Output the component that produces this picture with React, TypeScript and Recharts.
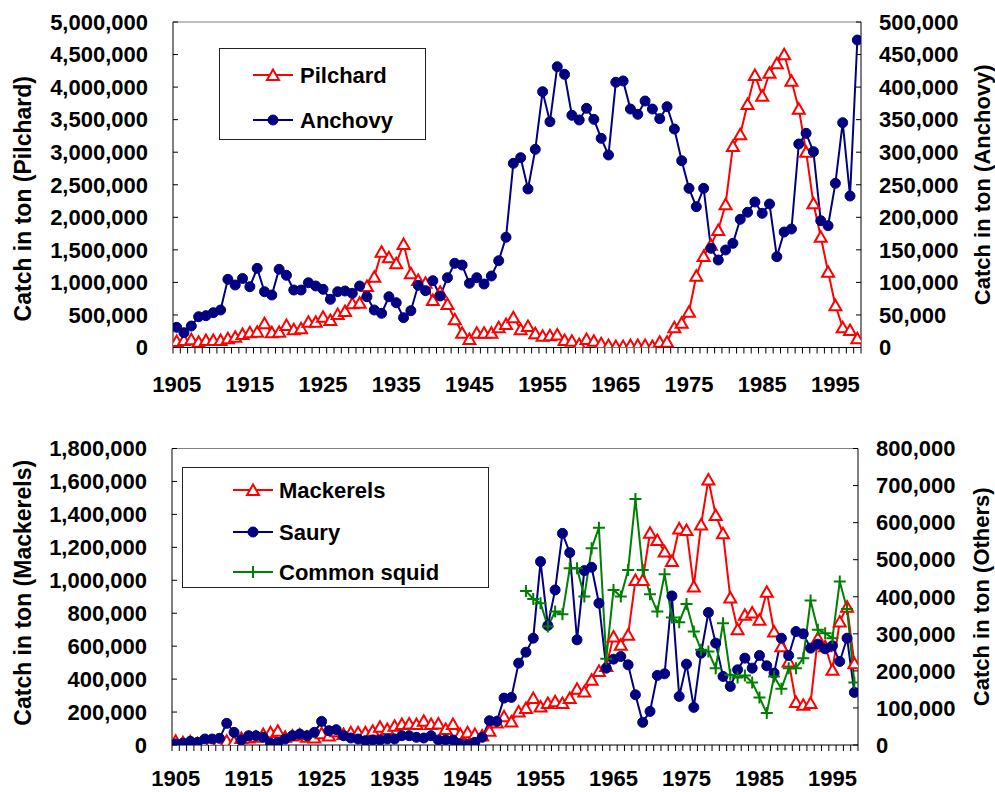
import React from 'react';
import { LineChart, Line, XAxis, YAxis, Legend, ReferenceLine } from 'recharts';

// ---------- categories ----------
const years = [
  1905, 1906, 1907, 1908, 1909, 1910, 1911, 1912, 1913, 1914,
  1915, 1916, 1917, 1918, 1919, 1920, 1921, 1922, 1923, 1924,
  1925, 1926, 1927, 1928, 1929, 1930, 1931, 1932, 1933, 1934,
  1935, 1936, 1937, 1938, 1939, 1940, 1941, 1942, 1943, 1944,
  1945, 1946, 1947, 1948, 1949, 1950, 1951, 1952, 1953, 1954,
  1955, 1956, 1957, 1958, 1959, 1960, 1961, 1962, 1963, 1964,
  1965, 1966, 1967, 1968, 1969, 1970, 1971, 1972, 1973, 1974,
  1975, 1976, 1977, 1978, 1979, 1980, 1981, 1982, 1983, 1984,
  1985, 1986, 1987, 1988, 1989, 1990, 1991, 1992, 1993, 1994,
  1995, 1996, 1997, 1998,
];

// ---------- top panel series ----------
const pilchard = [
  100000, 115000, 126000, 89000, 115000, 115000, 115000, 141000, 166000, 207000,
  233000, 243000, 371000, 233000, 243000, 346000, 279000, 295000, 397000, 397000,
  473000, 422000, 515000, 561000, 678000, 689000, 945000, 1088000, 1472000, 1385000,
  1293000, 1590000, 1140000, 1037000, 996000, 730000, 857000, 668000, 433000, 227000,
  131000, 227000, 227000, 227000, 310000, 361000, 464000, 279000, 330000, 218000,
  182000, 189000, 200000, 115000, 105000, 54000, 131000, 105000, 64000, 38000,
  23000, 23000, 38000, 38000, 38000, 23000, 89000, 89000, 310000, 381000,
  550000, 1103000, 1406000, 1580000, 1805000, 2200000, 3095000, 3275000, 3740000, 4186000,
  3868000, 4221000, 4365000, 4504000, 4099000, 3669000, 3008000, 2215000, 1702000, 1164000,
  648000, 310000, 269000, 141000,
];

const anchovy = [
  31000, 22700, 33000, 47300, 48900, 53500, 57600, 104700, 96000, 106000,
  93400, 121600, 85700, 80600, 120100, 110900, 88300, 88300, 99500, 94500,
  89400, 74000, 85700, 86800, 83200, 94500, 78000, 57600, 52500, 78000,
  68800, 45800, 56500, 95500, 87300, 102600, 79100, 107200, 129300, 126700,
  98600, 107200, 97500, 109800, 133300, 169300, 282900, 291600, 243500, 304400,
  392900, 346900, 431300, 419600, 356700, 349500, 367400, 350500, 321300, 295700,
  407400, 409400, 366300, 358200, 378600, 366300, 351500, 369900, 335600, 286900,
  244500, 216300, 244500, 152400, 134400, 149800, 160000, 196900, 207700, 223500,
  206100, 220400, 139500, 177400, 182000, 312600, 329000, 300800, 194800, 187100,
  252200, 345300, 232700, 472300,
];

// ---------- bottom panel series ----------
const mackerels = [
  26000, 16000, 22000, 10000, 16000, 22000, 26000, 26000, 22000, 42000,
  46000, 50000, 67000, 77000, 87000, 50000, 57000, 63000, 50000, 46000,
  71000, 57000, 83000, 67000, 77000, 77000, 77000, 87000, 111000, 97000,
  117000, 127000, 131000, 127000, 147000, 127000, 131000, 97000, 127000, 67000,
  77000, 67000, 57000, 87000, 137000, 174000, 143000, 204000, 224000, 285000,
  234000, 255000, 265000, 255000, 285000, 341000, 325000, 396000, 450000, 480000,
  658000, 608000, 669000, 1002000, 1002000, 1289000, 1244000, 1174000, 1117000, 1315000,
  1305000, 962000, 1339000, 1612000, 1396000, 1285000, 895000, 703000, 790000, 804000,
  760000, 931000, 689000, 600000, 507000, 261000, 244000, 255000, 650000, 600000,
  457000, 749000, 840000, 497000,
];

const saury = [
  3000, 5000, 9900, 7200, 16200, 16200, 18000, 58400, 34100, 13500,
  25100, 25100, 20700, 4500, 7200, 16200, 25100, 29600, 25100, 34100,
  63700, 38600, 41300, 25100, 18900, 16200, 11700, 13500, 13500, 16200,
  16200, 25100, 25100, 20700, 18900, 25100, 13500, 13500, 13500, 2700,
  1000, 7200, 20700, 65500, 63700, 126600, 128400, 220900, 250500, 288200,
  494800, 322300, 418400, 571000, 519000, 283700, 470500, 479500, 382500, 207400,
  231700, 238800, 216400, 135600, 61100, 90700, 187700, 192100, 402300, 131100,
  218200, 101500, 247800, 357400, 274800, 185000, 158000, 202900, 234400, 207400,
  241500, 213700, 194000, 288200, 241500, 306200, 299900, 261300, 272100, 259500,
  267600, 225400, 288200, 141900,
];

const squidStartYear = 1953;
const squid = [
  415700, 394200, 382500, 319600, 360100, 352900, 476800, 476800, 400500, 530700,
  586300, 232600, 418400, 400500, 472300, 663500, 472300, 406700, 360100, 460600,
  343900, 331300, 380700, 306200, 256800, 252300, 207400, 328600, 189500, 182300,
  187700, 168800, 128400, 86200, 185000, 151700, 207400, 207400, 234400, 389700,
  310700, 301700, 288200, 440900, 367200, 168800,
];

// ---------- tick labels ----------
const xLabelYears = [1905, 1915, 1925, 1935, 1945, 1955, 1965, 1975, 1985, 1995];
const pilchardTicks = [0, 500000, 1000000, 1500000, 2000000, 2500000, 3000000, 3500000, 4000000, 4500000, 5000000];
const anchovyTicks = [0, 50000, 100000, 150000, 200000, 250000, 300000, 350000, 400000, 450000, 500000];
const mackerelTicks = [0, 200000, 400000, 600000, 800000, 1000000, 1200000, 1400000, 1600000, 1800000];
const othersTicks = [0, 100000, 200000, 300000, 400000, 500000, 600000, 700000, 800000];

// ---------- tables ----------
const topData = years.map((year, i) => ({ year, pilchard: pilchard[i], anchovy: anchovy[i] }));
const bottomData = years.map((year, i) => ({
  year,
  mackerels: mackerels[i],
  saury: saury[i],
  squid: year >= squidStartYear ? squid[year - squidStartYear] : null,
}));

const xDomain = [years[0] - 0.5, years[years.length - 1] + 0.5];
const xTicks = [...years.map((y) => y - 0.5), years[years.length - 1] + 0.5, ...xLabelYears].sort((a, b) => a - b);

// ---------- styles ----------
const FONT = '"Liberation Sans", Arial, Helvetica, sans-serif';
const RED = '#ff0000';
const NAVY = '#000080';
const GREEN = '#008000';
const tickStyle = { fontSize: 22, fontWeight: 700, fontFamily: FONT, fill: '#000' };
const fmt = (v: number) => v.toLocaleString('en-US');

// ---------- markers ----------
const triangle = (cx: number, cy: number, key?: any) => (
  <polygon key={key} points={`${cx},${cy - 5.5} ${cx - 6},${cy + 5} ${cx + 6},${cy + 5}`} fill="#fff" stroke={RED} strokeWidth={2} />
);
const circle = (cx: number, cy: number, key?: any) => (
  <circle key={key} cx={cx} cy={cy} r={5} fill={NAVY} stroke={NAVY} strokeWidth={1} />
);
const plus = (cx: number, cy: number, key?: any) => (
  <path key={key} d={`M${cx - 6},${cy}H${cx + 6}M${cx},${cy - 6}V${cy + 6}`} stroke={GREEN} strokeWidth={2} fill="none" />
);

const makeDot = (shape: (cx: number, cy: number, key?: any) => any) => (props: any) => {
  const { cx, cy, index, value } = props;
  const key = props.key ?? `d-${index}`;
  if (cx == null || cy == null || value == null || Number.isNaN(cx) || Number.isNaN(cy)) return <g key={key} />;
  return shape(cx, cy, key);
};

const shapeOf: Record<string, (cx: number, cy: number, key?: any) => any> = { triangle, circle, plus };

// ---------- x tick ----------
const XTick = (props: any) => {
  const { x, y, payload, labelDy } = props;
  const v = payload.value;
  if (Number.isInteger(v)) {
    return (
      <text x={x} y={y + (labelDy ?? 44)} textAnchor="middle" style={{ fontSize: 22, fontWeight: 700, fontFamily: FONT }} fill="#000">
        {v}
      </text>
    );
  }
  return <line x1={x} y1={y} x2={x} y2={y + 6} stroke="#000" strokeWidth={1} />;
};

// ---------- axis titles ----------
const axisTitle = (text: string, offsetX: number, dy: number, size: number) => (props: any) => {
  const vb = props.viewBox || {};
  const cx = vb.x + offsetX;
  const cy = vb.y + vb.height / 2 + dy;
  return (
    <text
      x={cx}
      y={cy}
      transform={`rotate(-90 ${cx} ${cy})`}
      textAnchor="middle"
      dominantBaseline="central"
      style={{ fontSize: size, fontWeight: 700, fontFamily: FONT }}
      fill="#000"
    >
      {text}
    </text>
  );
};

// ---------- legend ----------
type LegendItem = { name: string; color: string; shape: string };
const topLegendItems: LegendItem[] = [
  { name: 'Pilchard', color: RED, shape: 'triangle' },
  { name: 'Anchovy', color: NAVY, shape: 'circle' },
];
const bottomLegendItems: LegendItem[] = [
  { name: 'Mackerels', color: RED, shape: 'triangle' },
  { name: 'Saury', color: NAVY, shape: 'circle' },
  { name: 'Common squid', color: GREEN, shape: 'plus' },
];

const LegendBox = ({ w, h, items, x1, x2, textX, rows }: any) => (
  <svg width={w} height={h} style={{ display: 'block' }}>
    <rect x={0.5} y={0.5} width={w - 1} height={h - 1} fill="#fff" stroke="#222" strokeWidth={1} />
    {items.map((it: LegendItem, i: number) => (
      <g key={it.name}>
        <line x1={x1} x2={x2} y1={rows[i]} y2={rows[i]} stroke={it.color} strokeWidth={2} />
        {shapeOf[it.shape]((x1 + x2) / 2, rows[i])}
        <text x={textX} y={rows[i]} dominantBaseline="central" style={{ fontSize: 22, fontWeight: 700, fontFamily: FONT }} fill="#000">
          {it.name}
        </text>
      </g>
    ))}
  </svg>
);

export default function App() {
  return (
    <div style={{ position: 'absolute', left: 0, top: 0, width: 995, height: 792, background: '#fff', overflow: 'hidden' }}>
      {/* top panel */}
      <div style={{ position: 'absolute', left: 0, top: 0 }}>
        <LineChart width={995} height={400} data={topData} margin={{ top: 22, right: 0, bottom: 12.5, left: 0 }}>
          <XAxis
            dataKey="year"
            type="number"
            domain={xDomain}
            ticks={xTicks}
            interval={0}
            tick={<XTick labelDy={44} />}
            tickLine={false}
            tickSize={0}
            tickMargin={0}
            height={40}
            stroke="#000"
            allowDataOverflow
          />
          <YAxis
            yAxisId="left"
            orientation="left"
            width={173}
            domain={[0, pilchardTicks[pilchardTicks.length - 1]]}
            ticks={pilchardTicks}
            interval={0}
            tickSize={-5}
            tickMargin={30}
            tickFormatter={fmt}
            tick={tickStyle}
            stroke="#000"
            allowDataOverflow
            label={{ content: axisTitle('Catch in ton (Pilchard)', 23, 14, 23) }}
          />
          <YAxis
            yAxisId="right"
            orientation="right"
            width={134}
            domain={[0, anchovyTicks[anchovyTicks.length - 1]]}
            ticks={anchovyTicks}
            interval={0}
            tickSize={-5}
            tickMargin={23}
            tickFormatter={fmt}
            tick={tickStyle}
            stroke="#000"
            allowDataOverflow
            label={{ content: axisTitle('Catch in ton (Anchovy)', 121, 0, 22) }}
          />
          <ReferenceLine yAxisId="left" y={pilchardTicks[pilchardTicks.length - 1]} stroke="#808080" strokeWidth={1} ifOverflow="visible" />
          <Legend
            layout="vertical"
            align="center"
            verticalAlign="middle"
            wrapperStyle={{ left: 219, top: 48, width: 207, height: 92 }}
            content={() => <LegendBox w={207} h={92} items={topLegendItems} x1={34} x2={74} textX={81} rows={[27, 72]} />}
          />
          <Line yAxisId="left" dataKey="pilchard" name="Pilchard" stroke={RED} strokeWidth={2} dot={makeDot(triangle)} activeDot={false} isAnimationActive={false} />
          <Line yAxisId="right" dataKey="anchovy" name="Anchovy" stroke={NAVY} strokeWidth={2} dot={makeDot(circle)} activeDot={false} isAnimationActive={false} />
        </LineChart>
      </div>

      {/* bottom panel */}
      <div style={{ position: 'absolute', left: 0, top: 400 }}>
        <LineChart width={995} height={392} data={bottomData} margin={{ top: 48.5, right: 0, bottom: 7, left: 0 }}>
          <XAxis
            dataKey="year"
            type="number"
            domain={xDomain}
            ticks={xTicks}
            interval={0}
            tick={<XTick labelDy={41} />}
            tickLine={false}
            tickSize={0}
            tickMargin={0}
            height={40}
            stroke="#000"
            allowDataOverflow
          />
          <YAxis
            yAxisId="left"
            orientation="left"
            width={172}
            domain={[0, mackerelTicks[mackerelTicks.length - 1]]}
            ticks={mackerelTicks}
            interval={0}
            tickSize={-5}
            tickMargin={30}
            tickFormatter={fmt}
            tick={tickStyle}
            stroke="#000"
            allowDataOverflow
            label={{ content: axisTitle('Catch in ton (Mackerels)', 23, -4, 23) }}
          />
          <YAxis
            yAxisId="right"
            orientation="right"
            width={137}
            domain={[0, othersTicks[othersTicks.length - 1]]}
            ticks={othersTicks}
            interval={0}
            tickSize={-5}
            tickMargin={23}
            tickFormatter={fmt}
            tick={tickStyle}
            stroke="#000"
            allowDataOverflow
            label={{ content: axisTitle('Catch in ton (Others)', 123, 0, 22) }}
          />
          <ReferenceLine yAxisId="left" y={mackerelTicks[mackerelTicks.length - 1]} stroke="#808080" strokeWidth={1} ifOverflow="visible" />
          <Legend
            layout="vertical"
            align="center"
            verticalAlign="middle"
            wrapperStyle={{ left: 182, top: 67, width: 307, height: 121 }}
            content={() => <LegendBox w={307} h={121} items={bottomLegendItems} x1={51} x2={91} textX={97} rows={[23, 65, 105]} />}
          />
          <Line yAxisId="left" dataKey="mackerels" name="Mackerels" stroke={RED} strokeWidth={2} dot={makeDot(triangle)} activeDot={false} isAnimationActive={false} />
          <Line yAxisId="right" dataKey="saury" name="Saury" stroke={NAVY} strokeWidth={2} dot={makeDot(circle)} activeDot={false} isAnimationActive={false} />
          <Line yAxisId="right" dataKey="squid" name="Common squid" stroke={GREEN} strokeWidth={2} dot={makeDot(plus)} activeDot={false} isAnimationActive={false} />
        </LineChart>
      </div>
    </div>
  );
}
